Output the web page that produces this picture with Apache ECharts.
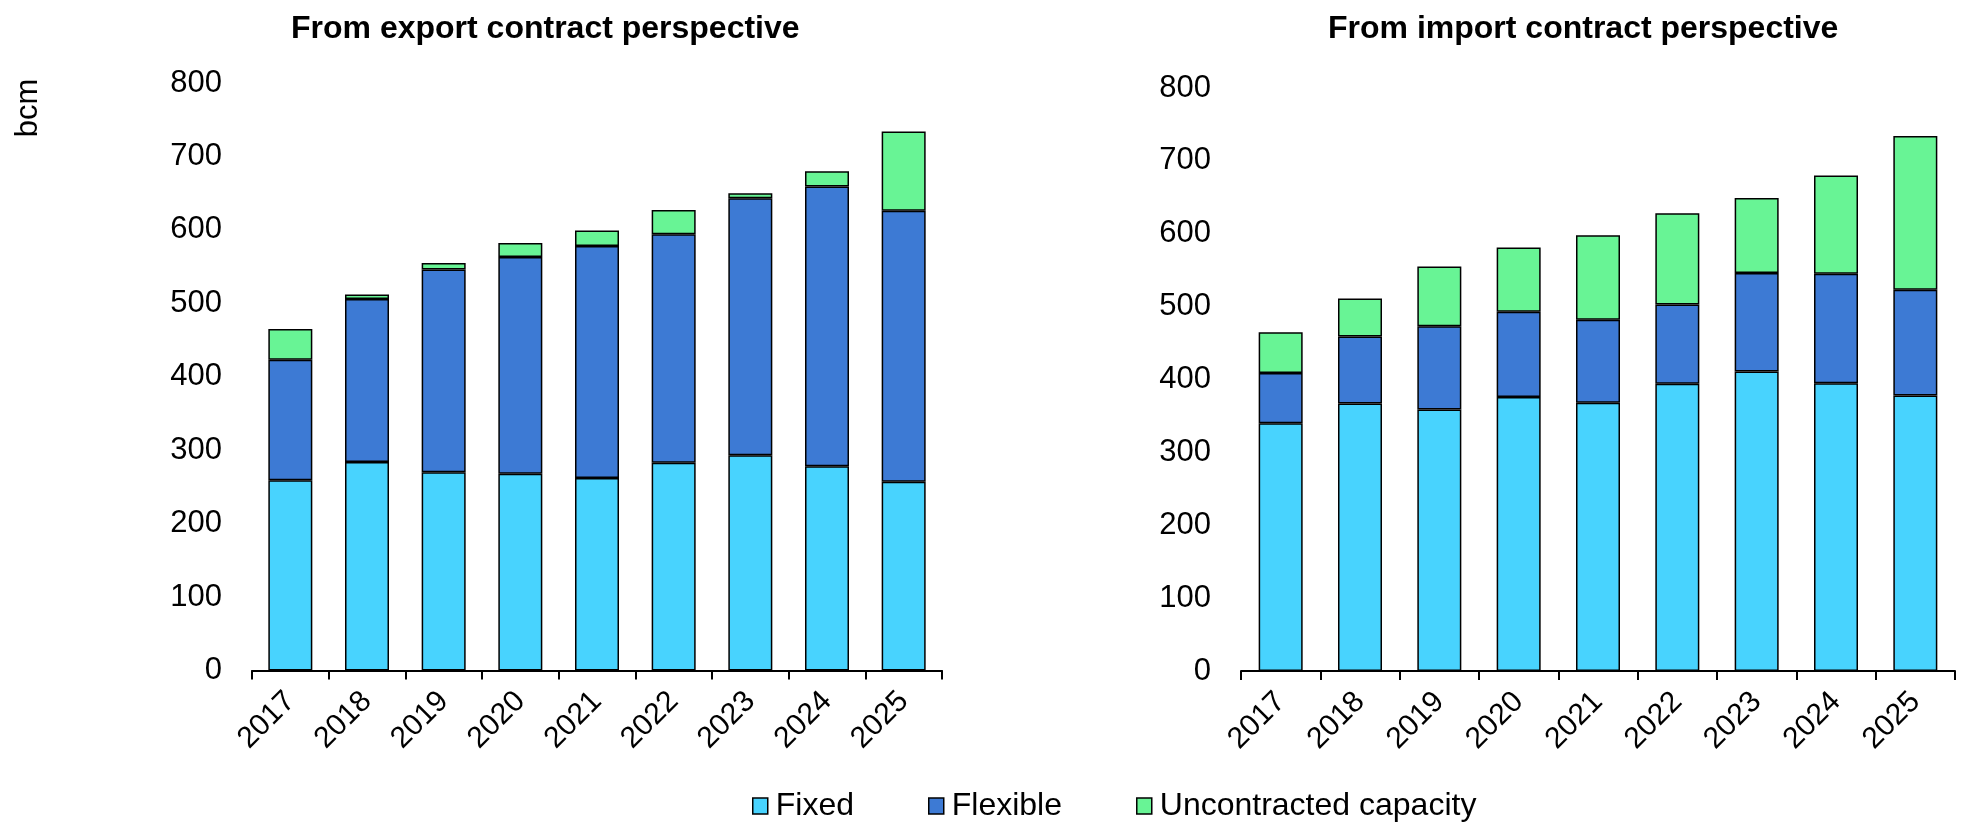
<!DOCTYPE html>
<html>
<head>
<meta charset="utf-8">
<script src="https://cdn.jsdelivr.net/npm/echarts@6/dist/echarts.min.js"></script>
<style>
html,body{margin:0;padding:0;background:#fff;}
#chart{width:1964px;height:823px;}
</style>
</head>
<body>
<div id="chart"></div>
<script>
const years = ['2017','2018','2019','2020','2021','2022','2023','2024','2025'];
const yTicks = [0, 100, 200, 300, 400, 500, 600, 700, 800];
const seriesNames = ['Fixed', 'Flexible', 'Uncontracted capacity'];
const titles = ['From export contract perspective', 'From import contract perspective'];

// From export contract perspective (bcm)
const exportFixed = [259, 284, 270, 268, 262, 283, 293, 278, 257];
const exportFlexible = [164, 222, 276, 295, 316, 311, 350, 381, 369];
const exportUncontracted = [42, 6, 9, 19, 21, 33, 7, 21, 108];

// From import contract perspective (bcm)
const importFixed = [340, 367, 359, 376, 368, 394, 411, 395, 378];
const importFlexible = [69, 92, 114, 117, 114, 109, 135, 150, 145];
const importUncontracted = [56, 52, 82, 88, 116, 125, 103, 135, 211];

const colors = ['#48D3FE', '#3D7AD4', '#68F495'];
const FONT = '"Liberation Sans", Arial, sans-serif';

const chart = echarts.init(document.getElementById('chart'), null, {renderer: 'canvas'});

function xAxisCfg(gi) {
  return {
    type: 'category', gridIndex: gi, data: years,
    axisLine: {show: true, lineStyle: {color: '#000', width: 2}},
    axisTick: {show: true, length: 9, lineStyle: {color: '#000', width: 2}},
    axisLabel: {rotate: 45, fontSize: 30, color: '#000', fontFamily: FONT, margin: 26},
    splitLine: {show: false}
  };
}
function yAxisCfg(gi) {
  return {
    type: 'value', gridIndex: gi, min: yTicks[0], max: yTicks[yTicks.length - 1], interval: 100,
    axisLine: {show: false}, axisTick: {show: false}, splitLine: {show: false},
    axisLabel: {fontSize: 31, color: '#000', fontFamily: FONT, margin: 30}
  };
}
function barSeries(name, data, gi, ci) {
  return {
    name: name, type: 'bar', stack: 'g' + gi, xAxisIndex: gi, yAxisIndex: gi,
    data: data, barWidth: 44,
    itemStyle: {color: colors[ci], borderColor: '#000', borderWidth: 1.5},
    emphasis: {disabled: true},
    animation: false
  };
}

chart.setOption({
  animation: false,
  backgroundColor: '#fff',
  title: [
    {text: titles[0], left: 286, top: 8, textStyle: {fontSize: 32, fontWeight: 'bold', color: '#000', fontFamily: FONT}},
    {text: titles[1], left: 1323, top: 8, textStyle: {fontSize: 32, fontWeight: 'bold', color: '#000', fontFamily: FONT}}
  ],
  grid: [
    {left: 252, top: 83, width: 690, height: 587.5, containLabel: false},
    {left: 1241, top: 88, width: 714, height: 583, containLabel: false}
  ],
  legend: {
    data: seriesNames, left: 752, top: 790, padding: 0,
    itemWidth: 15, itemHeight: 16, itemGap: 74, icon: 'rect',
    itemStyle: {borderColor: '#000', borderWidth: 1.5},
    textStyle: {fontSize: 32, color: '#000', fontFamily: FONT, padding: [0, 0, 0, 3]}
  },
  xAxis: [xAxisCfg(0), xAxisCfg(1)],
  yAxis: [yAxisCfg(0), yAxisCfg(1)],
  graphic: [{
    type: 'text', x: 28.5, y: 108, rotation: Math.PI / 2,
    style: {text: 'bcm', fontSize: 31, fontFamily: FONT, fill: '#000', textAlign: 'center', textVerticalAlign: 'middle'}
  }],
  series: [
    barSeries(seriesNames[0], exportFixed, 0, 0),
    barSeries(seriesNames[1], exportFlexible, 0, 1),
    barSeries(seriesNames[2], exportUncontracted, 0, 2),
    barSeries(seriesNames[0], importFixed, 1, 0),
    barSeries(seriesNames[1], importFlexible, 1, 1),
    barSeries(seriesNames[2], importUncontracted, 1, 2)
  ]
});
</script>
</body>
</html>
